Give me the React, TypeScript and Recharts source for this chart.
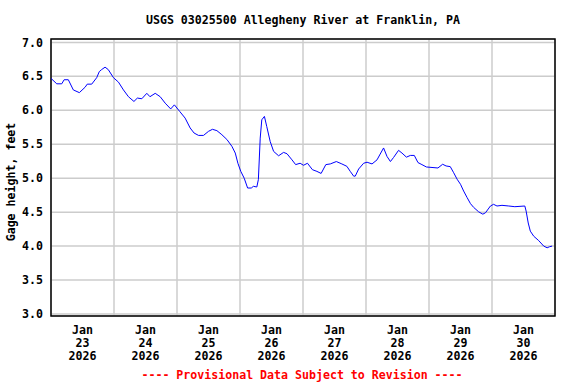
import React from 'react';
import { LineChart, Line, XAxis, YAxis, CartesianGrid, ReferenceArea } from 'recharts';

const TITLE = 'USGS 03025500 Allegheny River at Franklin, PA';
const Y_LABEL = 'Gage height, feet';
const FOOTER = '---- Provisional Data Subject to Revision ----';

const monthLabel = 'Jan';
const yearLabel = '2026';
const dayLabels = ['23', '24', '25', '26', '27', '28', '29', '30'];
// hours since Jan 23 00:00
const labelHours = [12, 36, 60, 84, 108, 132, 156, 180];
const midnightHours = [24, 48, 72, 96, 120, 144, 168];
const yTicks = [3.0, 3.5, 4.0, 4.5, 5.0, 5.5, 6.0, 6.5, 7.0];

const hours = [
  0, 2.2, 4.1, 5.0, 6.6, 8.5, 10.8, 13.0, 13.8, 15.5, 17.4, 18.4, 19.3, 20.6, 21.8, 23.8,
  25.7, 27.6, 29.5, 31.6, 32.9, 34.6, 36.5, 37.7, 39.7, 41.6, 43.5, 45.6, 47.0, 49.1,
  51.1, 53.0, 54.5, 56.2, 58.1, 60.0, 61.5, 63.2, 65.1, 67.0, 68.9, 70.2, 71.2, 72.3,
  73.6, 74.9, 76.3, 77.1, 78.4, 79.0, 79.7, 80.3, 81.3, 82.2, 83.5, 84.8, 86.7, 88.6,
  89.9, 91.8, 93.2, 94.9, 96.2, 97.7, 99.6, 101.3, 102.9, 104.7, 106.4, 108.7, 110.8,
  112.7, 114.0, 115.3, 115.9, 117.2, 119.1, 120.4, 122.3, 124.2, 125.4, 126.7, 128.0,
  129.3, 130.5, 132.4, 133.7, 135.4, 136.9, 138.4, 139.8, 141.3, 143.0, 147.4, 149.2,
  150.5, 152.1, 153.4, 154.7, 156.0, 157.2, 158.5, 159.8, 161.0, 162.9, 164.5, 165.5,
  167.4, 168.6, 169.9, 171.8, 174.4, 176.7, 180.5, 181.0, 181.8, 182.6, 183.9, 185.8,
  187.7, 189.0, 189.9, 190.9,
];

const gage = [
  6.47, 6.39, 6.39, 6.45, 6.45, 6.3, 6.26, 6.34, 6.385, 6.385, 6.48, 6.57, 6.6, 6.635, 6.6, 6.48,
  6.415, 6.3, 6.2, 6.13, 6.18, 6.17, 6.25, 6.2, 6.25, 6.2, 6.105, 6.02, 6.08, 5.98,
  5.885, 5.74, 5.665, 5.63, 5.63, 5.69, 5.72, 5.7, 5.64, 5.57, 5.47, 5.37, 5.22, 5.1,
  5.0, 4.855, 4.855, 4.88, 4.87, 4.98, 5.59, 5.86, 5.91, 5.76, 5.54, 5.395, 5.33, 5.38,
  5.36, 5.27, 5.2, 5.22, 5.19, 5.22, 5.125, 5.1, 5.07, 5.2, 5.21, 5.245, 5.21,
  5.175, 5.1, 5.03, 5.03, 5.135, 5.22, 5.235, 5.21, 5.27, 5.355, 5.445, 5.32,
  5.245, 5.305, 5.41, 5.37, 5.31, 5.335, 5.335, 5.23, 5.2, 5.165, 5.15, 5.205,
  5.18, 5.17, 5.08, 4.985, 4.91, 4.81, 4.715, 4.625, 4.57, 4.505, 4.47, 4.49,
  4.59, 4.615, 4.59, 4.6, 4.59, 4.58, 4.59, 4.515, 4.34, 4.22, 4.145, 4.08,
  4.0, 3.975, 3.99, 4.0,
];

const data = hours.map((h, i) => ({ h, v: gage[i] }));

const FONT = '"DejaVu Sans Mono", monospace';
const FS = 11.6;

const DateTick = (props: any) => {
  const { x, y, payload } = props;
  const idx = labelHours.indexOf(payload.value);
  const day = idx >= 0 ? dayLabels[idx] : '';
  return (
    <text
      textAnchor="middle"
      fill="#000"
      fontFamily={FONT}
      fontWeight="bold"
      fontSize={FS}
    >
      <tspan x={x} y={y + 18}>{monthLabel}</tspan>
      <tspan x={x} y={y + 31}>{day}</tspan>
      <tspan x={x} y={y + 44}>{yearLabel}</tspan>
    </text>
  );
};

export default function App() {
  return (
    <div style={{ position: 'absolute', left: 0, top: 0, width: 576, height: 384, background: '#fff' }}>
      <LineChart
        width={576}
        height={384}
        data={data}
        margin={{ top: 39, right: 21, bottom: 0, left: 0 }}
      >
        <CartesianGrid xAxisId="grid" stroke="#cccccc" strokeWidth={1.5} />
        <XAxis
          dataKey="h"
          type="number"
          domain={[0, 192]}
          ticks={labelHours}
          interval={0}
          tick={<DateTick />}
          tickLine={false}
          axisLine={false}
          tickSize={0}
          tickMargin={0}
          height={68}
        />
        <XAxis
          xAxisId="grid"
          dataKey="h"
          type="number"
          domain={[0, 192]}
          ticks={midnightHours}
          interval={0}
          hide
        />
        <YAxis
          type="number"
          domain={[2.97, 7.05]}
          ticks={yTicks}
          interval={0}
          width={51}
          tickLine={false}
          axisLine={false}
          tickFormatter={(v: number) => v.toFixed(1)}
          tick={{ fill: '#000', fontFamily: FONT, fontWeight: 'bold', fontSize: FS }}
        />
        <Line
          type="linear"
          dataKey="v"
          stroke="#0000ff"
          strokeWidth={1}
          dot={false}
          isAnimationActive={false}
        />
        <ReferenceArea
          x1={0}
          x2={192}
          y1={2.97}
          y2={7.05}
          fill="none"
          fillOpacity={0}
          stroke="#000"
          strokeWidth={1.5}
          ifOverflow="visible"
        />
      </LineChart>
      <svg
        width={576}
        height={384}
        style={{ position: 'absolute', left: 0, top: 0, pointerEvents: 'none' }}
      >
        <text x={303} y={24} textAnchor="middle" fontFamily={FONT} fontWeight="bold" fontSize={FS} fill="#000">
          {TITLE}
        </text>
        <text
          x={15}
          y={182}
          textAnchor="middle"
          transform="rotate(-90, 15, 182)"
          fontFamily={FONT}
          fontWeight="bold"
          fontSize={FS}
          fill="#000"
        >
          {Y_LABEL}
        </text>
        <text x={302} y={379} textAnchor="middle" fontFamily={FONT} fontWeight="bold" fontSize={FS} fill="#ff0000">
          {FOOTER}
        </text>
      </svg>
    </div>
  );
}
